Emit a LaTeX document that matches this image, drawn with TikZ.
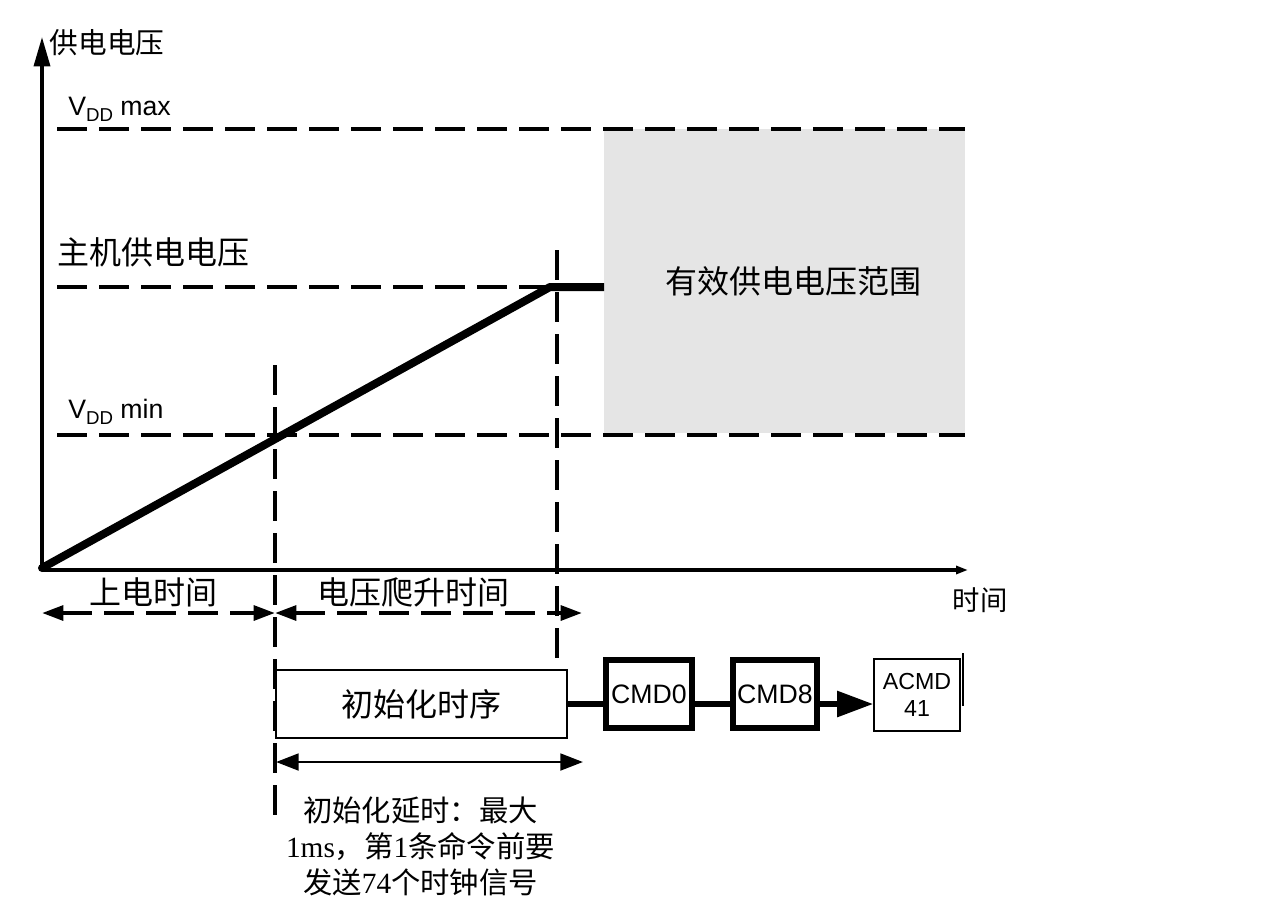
\documentclass[tikz,border=0pt]{standalone}
\usepackage{fontspec}
\setmainfont{Liberation Sans}
\newfontfamily\cjk{Noto Sans CJK SC}
\newfontfamily\serifl{Liberation Serif}
\usetikzlibrary{arrows.meta}
\begin{document}
\begin{tikzpicture}[x=0.75pt,y=-0.75pt,
  axisln/.style={line width=2.6pt},
  dashln/.style={line width=3.4pt, dash pattern=on 22.5pt off 9pt},
  vdashln/.style={line width=3.6pt, dash pattern=on 22.5pt off 9pt},
  cjklbl/.style={inner sep=0pt, font=\cjk\fontsize{24}{28}\selectfont},
  cmdbox/.style={draw, line width=4.5pt, minimum width=64.5pt, minimum height=51pt, inner sep=0pt, font=\fontsize{20}{24}\selectfont},
  thinbox/.style={draw, line width=1.5pt, inner sep=0pt},
  conn/.style={line width=3.8pt},
  dtip/.tip={Triangle[length=16pt,width=11pt]},
  stip/.tip={Triangle[length=17pt,width=12.5pt]}
]
\path[use as bounding box] (0,0) rectangle (1270,915);

% valid region
\node[fill=black!10, minimum width=270.75pt, minimum height=228pt, inner sep=0pt] (rng) at (784.5,281) {};
\node[cjklbl] (rnglbl) at (793,281) {有效供电电压范围};

% axes
\coordinate (O) at (42,570);
\coordinate (ytip) at (42,37);
\coordinate (xtip) at (968,570);
\draw[axisln, -{Triangle[length=22pt,width=12pt]}] (O) -- (ytip);
\draw[axisln, -{Triangle[length=9pt,width=6pt]}] (O) -- (xtip);
\node[inner sep=0pt, font=\cjk\fontsize{21.5}{24}\selectfont] (ylab) at (107,43) {供电电压};
\node[inner sep=0pt, font=\cjk\fontsize{20.5}{24}\selectfont] (xlab) at (980,600) {时间};

% level lines
\coordinate (maxL) at (57,129);  \coordinate (maxR) at (965,129);
\coordinate (hostL) at (57,287); \coordinate (peak) at (550,287);
\coordinate (minL) at (57,435);  \coordinate (minR) at (965,435);
\coordinate (hostE) at (604,287);
\draw[dashln] (maxL) -- (maxR);
\draw[dashln] (hostL) -- (peak);
\draw[dashln] (minL) -- (minR);

\node[anchor=base west, inner sep=0pt, font=\fontsize{20}{24}\selectfont] (vmax) at (68,115) {V\raisebox{-5pt}{\fontsize{14}{16}\selectfont DD} max};
\node[anchor=base west, inner sep=0pt, font=\fontsize{20}{24}\selectfont] (vmin) at (68,418) {V\raisebox{-5pt}{\fontsize{14}{16}\selectfont DD} min};
\node[cjklbl, anchor=west] (hostlbl) at (57,252) {主机供电电压};

% ramp
\coordinate (O2) at (42,568);
\draw[line width=6pt, line join=round] (O2) -- (peak) -- (hostE);
\fill (O2) circle (3pt);

% vertical markers
\coordinate (v1t) at (275,365); \coordinate (v1b) at (275,823);
\coordinate (v2t) at (557,250); \coordinate (v2b) at (557,662);
\draw[vdashln] (v1t) -- (v1b);
\draw[vdashln] (v2t) -- (v2b);

% time spans
\coordinate (a1) at (42,613); \coordinate (a2) at (275,613); \coordinate (a3) at (582,613);
\draw[line width=3pt, dash pattern=on 22.5pt off 9pt, dtip-dtip] (a1) -- (a2);
\draw[line width=3pt, dash pattern=on 22.5pt off 9pt, dtip-dtip] (a2) -- (a3);
\node[cjklbl] (l1) at (153,592) {上电时间};
\node[cjklbl] (l2) at (413,592) {电压爬升时间};

% init sequence
\node[thinbox, minimum width=218pt, minimum height=51pt, font=\cjk\fontsize{24}{28}\selectfont] (init) at (421.5,704) {初始化时序};
\node[cmdbox] (cmd0) at (649,694) {CMD0};
\node[cmdbox, minimum width=63pt] (cmd8) at (775,694) {CMD8};
\node[thinbox, minimum width=64.5pt, minimum height=54pt, align=center, font=\fontsize{17.4}{20}\selectfont] (acmd) at (917,695) {ACMD\\41};
\draw[conn] (init.east) -- (init.east -| cmd0.west);
\draw[conn] (cmd0.east |- init.east) -- (init.east -| cmd8.west);
\draw[conn, -{Triangle[length=27pt,width=19pt]}] (cmd8.east |- init.east) -- (init.east -| acmd.west);
\coordinate (e1) at (963,653); \coordinate (e2) at (963,706);
\draw[line width=1.2pt] (e1) -- (e2);

% delay arrow
\coordinate (d1) at (276,762); \coordinate (d2) at (583,762);
\draw[line width=2.2pt, stip-stip] (d1) -- (d2);
\node[inner sep=0pt, align=center, font=\cjk\fontsize{22}{27}\selectfont] (delay) at (420.5,846)
  {初始化延时：最大\\{\serifl 1ms}，第{\serifl 1}条命令前要\\发送{\serifl 74}个时钟信号};
\end{tikzpicture}
\end{document}
